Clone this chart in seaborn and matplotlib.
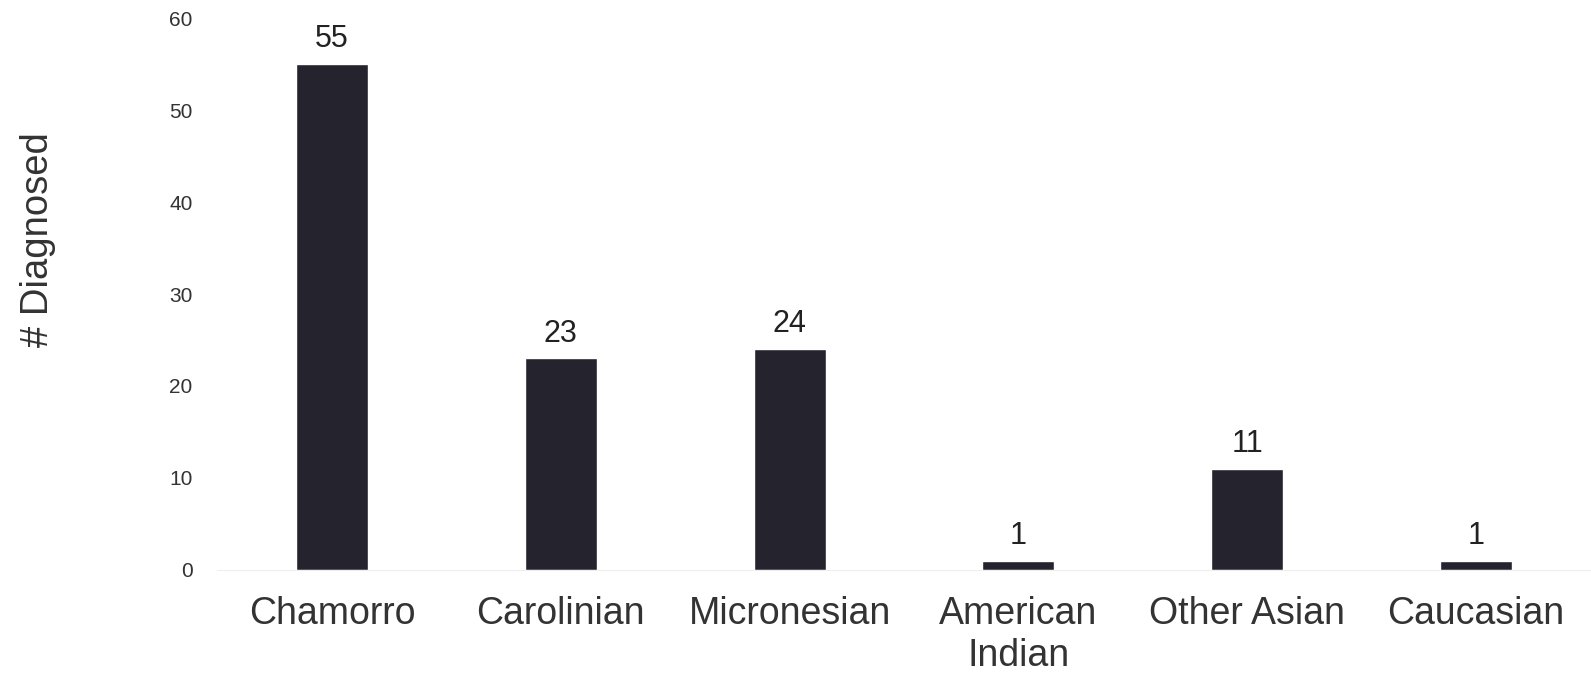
import pandas as pd
import matplotlib.pyplot as plt
import seaborn as sns

# values
groups = ['Chamorro', 'Carolinian', 'Micronesian', 'American\nIndian', 'Other Asian', 'Caucasian']
diagnosed = [55, 23, 24, 1, 11, 1]
y_ticks = [0, 10, 20, 30, 40, 50, 60]

df = pd.DataFrame({'group': groups, 'diagnosed': diagnosed})

sns.set_style('white')
plt.rcParams['font.family'] = ['Liberation Sans', 'DejaVu Sans']

fig = plt.figure(figsize=(15.91, 6.76), dpi=100)
ax = fig.add_axes([0.1367, 0.157, 0.8630, 0.816])

sns.barplot(data=df, x='group', y='diagnosed', color='#25232e', width=0.315,
            saturation=1, ax=ax)

ax.bar_label(ax.containers[0], fontsize=22, color='#222222', padding=7)

ax.set_ylim(0, 60)
ax.set_xlim(-0.5, 5.5)
ax.set_yticks(y_ticks)
ax.tick_params(axis='y', labelsize=15, colors='#333333', length=0, pad=18)
ax.tick_params(axis='x', labelsize=27, colors='#333333', length=0, pad=19)
for lbl in ax.get_xticklabels():
    lbl.set_linespacing(1.22)
ax.set_xlabel('')
ax.set_ylabel('# Diagnosed', fontsize=27.5, color='#333333')
ax.yaxis.set_label_coords(-0.1175, 0.598)

sns.despine(ax=ax, left=True)
ax.spines['bottom'].set_color('#eeeeee')

fig.savefig('out.png', dpi=100)
